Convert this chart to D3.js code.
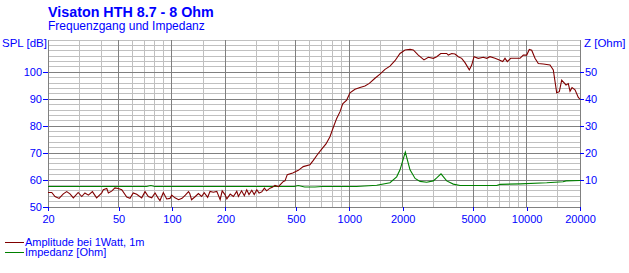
<!DOCTYPE html>
<html>
<head>
<meta charset="utf-8">
<script src="https://cdn.jsdelivr.net/npm/d3@7"></script>
<style>
  body { margin: 0; background: #fff; }
  text { font-family: "Liberation Sans", Arial, sans-serif; fill: #0000ff; }
</style>
</head>
<body>
<svg id="chart"></svg>
<script>
// frequency response (Hz, dB)
const splFreq = [20, 21, 21.9, 23.1, 24.4, 25.5, 26.6, 27.8, 29.6, 31, 32.3, 33.8, 35.6, 37.6, 40.2, 41, 42.9, 43.8, 45.7, 47.7,
  49.8, 52.1, 55.6, 58, 60.5, 63.3, 67.5, 70.5, 73.6, 76.9, 80.3, 83.8, 85.6, 89.4, 93.4, 97.5, 99.7, 104, 109, 114,
  119, 124, 126, 129, 135, 141, 147, 152, 159, 164, 171, 179, 187, 192, 199, 204, 213, 222, 232, 237,
  247, 256, 264, 272, 282, 291, 301, 310, 321, 332, 342, 357, 368, 381, 398, 416, 425, 434, 447, 480,
  516, 550, 600, 627, 660, 699, 739, 778, 813, 849, 887, 918, 967, 1009, 1077, 1149, 1226, 1297, 1396, 1490,
  1590, 1696, 1810, 1932, 2062, 2200, 2296, 2450, 2638, 2790, 2978, 3112, 3278, 3543, 3618, 3781, 3946, 4118, 4304, 4493,
  4751, 4902, 5051, 5340, 5698, 5956, 6217, 6634, 7014, 7330, 7552, 7782, 8133, 8600, 9177, 9578, 10010, 10354, 10682, 11150,
  11640, 12420, 13546, 14140, 14780, 15290, 15770, 16680, 17180, 17570, 18030, 18750, 19570, 20000];
const splValues = [55.4, 55.4, 53.9, 53.2, 54.9, 55.7, 54.9, 53.4, 55.4, 53.9, 55.2, 54.4, 55.7, 53.4, 55.2, 56.4, 56.9, 55.2, 55.9, 57.1,
  56.9, 56.4, 53.7, 53.2, 55.2, 54.7, 53.4, 55.7, 53.9, 53.4, 55.2, 53.2, 52.4, 55.4, 53.0, 53.2, 54.4, 53.4, 52.7, 53.2,
  54.4, 55.7, 55.0, 52.7, 53.8, 55.0, 53.9, 55.3, 53.6, 55.8, 55.5, 55.8, 52.7, 56.0, 54.6, 53.0, 54.8, 53.9, 55.8, 53.9,
  56.0, 54.2, 56.4, 54.6, 56.2, 54.6, 56.4, 55.2, 55.6, 57.0, 56.0, 57.0, 57.3, 58.0, 57.6, 58.9, 59.5, 59.7, 62.0, 62.6,
  63.6, 65.0, 65.7, 67.3, 69.4, 71.5, 73.4, 76.1, 79.6, 82.9, 85.4, 88.3, 89.7, 92.4, 93.7, 94.4, 94.9, 95.9, 97.8, 99.3,
  101.1, 102.3, 104.3, 107.0, 108.3, 108.5, 108.3, 106.4, 104.6, 105.6, 105.2, 105.8, 107.0, 107.0, 106.4, 107.0, 106.8, 105.8, 105.2, 103.6,
  100.9, 102.7, 105.8, 105.2, 105.6, 105.2, 105.8, 105.2, 104.6, 104.0, 105.2, 104.0, 105.2, 105.2, 105.2, 106.4, 106.4, 108.5, 108.2, 105.2,
  103.3, 103.1, 102.7, 100.9, 92.4, 92.8, 97.1, 95.3, 95.8, 93.0, 94.3, 93.5, 90.7, 90.0];

// impedance (Hz, Ohm)
const zFreq = [20, 72, 76, 80, 490, 515, 560, 640, 700, 1000, 1100, 1428, 1696, 1850, 1932, 2070, 2200, 2350, 2506, 2732,
  2978, 3112, 3290, 3543, 3860, 4214, 6780, 7085, 9185, 12980, 16040, 16700, 20000];
const zValues = [7.6, 7.6, 8.0, 7.6, 7.6, 8.0, 7.4, 7.4, 7.6, 7.6, 7.6, 8.1, 9.0, 11.2, 13.8, 20.4, 13.8, 10.6, 9.5, 9.2,
  9.7, 10.8, 12.3, 9.7, 8.5, 8.0, 8.0, 8.4, 8.6, 9.0, 9.4, 9.7, 9.85];

const xTicks = [20, 50, 100, 200, 500, 1000, 2000, 5000, 10000, 20000];
const xMinor = [30, 40, 60, 70, 80, 90, 150, 300, 400, 600, 700, 800, 900, 1500, 3000, 4000, 6000, 7000, 8000, 9000, 15000];
const splTicks = [50, 60, 70, 80, 90, 100];
const splMinor = [52, 54, 56, 58, 62, 64, 66, 68, 72, 74, 76, 78, 82, 84, 86, 88, 92, 94, 96, 98, 102, 104, 106, 108, 110, 112];
const zTicks = [10, 20, 30, 40, 50];
const legendLabels = ["Amplitude bei 1Watt, 1m", "Impedanz [Ohm]"];
const legendColors = ["#800000", "#008000"];

const chartW = 629, chartH = 273;
const plotL = 48, plotR = 580, plotT = 40, plotB = 207;

const svg = d3.select("#chart").attr("width", chartW).attr("height", chartH);

const x = d3.scaleLog().domain([20, 20000]).range([plotL, plotR]);
const y = d3.scaleLinear().domain([50, 112]).range([plotB, plotT]);
const yz = d3.scaleLinear().domain([0, 62]).range([plotB, plotT]);

// grid
const grid = svg.append("g").attr("shape-rendering", "crispEdges");
grid.selectAll(".hmin").data(splMinor).join("line")
    .attr("x1", plotL).attr("x2", plotR)
    .attr("y1", d => y(d)).attr("y2", d => y(d))
    .attr("stroke", "#c0c0c0");
grid.selectAll(".vmin").data(xMinor).join("line")
    .attr("x1", d => x(d)).attr("x2", d => x(d))
    .attr("y1", plotT).attr("y2", plotB)
    .attr("stroke", "#c0c0c0");
grid.selectAll(".hmaj").data(splTicks).join("line")
    .attr("x1", plotL).attr("x2", plotR)
    .attr("y1", d => y(d)).attr("y2", d => y(d))
    .attr("stroke", "#808080");
grid.selectAll(".vmaj").data(xTicks).join("line")
    .attr("x1", d => x(d)).attr("x2", d => x(d))
    .attr("y1", plotT).attr("y2", plotB)
    .attr("stroke", "#808080");

// axes
const xAxis = d3.axisBottom(x).tickValues(xTicks).tickFormat(d3.format("d")).tickSize(4).tickPadding(4);
const yAxis = d3.axisLeft(y).tickValues(splTicks).tickSize(5).tickPadding(1);
const zAxis = d3.axisRight(yz).tickValues(zTicks).tickSize(4).tickPadding(1);

function styleAxis(g) {
  g.select(".domain").remove();
  g.selectAll(".tick line").attr("stroke", "#0000ff");
  g.selectAll(".tick text").attr("fill", "#0000ff")
      .style("font-size", "11px").style("font-family", "'Liberation Sans', Arial, sans-serif");
}

svg.append("g").attr("transform", `translate(0,${plotB})`).attr("shape-rendering", "crispEdges")
    .call(xAxis).call(styleAxis);
svg.append("g").attr("transform", `translate(${plotL},0)`).attr("shape-rendering", "crispEdges")
    .call(yAxis).call(styleAxis);
svg.append("g").attr("transform", `translate(${plotR},0)`).attr("shape-rendering", "crispEdges")
    .call(zAxis).call(styleAxis);

// curves
const splLine = d3.line().x(d => x(d[0])).y(d => y(d[1]));
const zLine = d3.line().x(d => x(d[0])).y(d => yz(d[1]));

svg.append("path")
    .datum(d3.zip(zFreq, zValues))
    .attr("d", zLine)
    .attr("fill", "none").attr("stroke", "#008000").attr("stroke-width", 1.1);
svg.append("path")
    .datum(d3.zip(splFreq, splValues))
    .attr("d", splLine)
    .attr("fill", "none").attr("stroke", "#800000").attr("stroke-width", 1.1);

// titles
svg.append("text").attr("x", 48).attr("y", 17)
    .style("font-size", "14.3px").style("font-weight", "bold")
    .text("Visaton HTH 8.7 - 8 Ohm");
svg.append("text").attr("x", 48).attr("y", 29.5)
    .style("font-size", "12px")
    .text("Frequenzgang und Impedanz");
svg.append("text").attr("x", 2).attr("y", 47)
    .style("font-size", "11.5px")
    .text("SPL [dB]");
svg.append("text").attr("x", 584).attr("y", 47)
    .style("font-size", "11.5px")
    .text("Z [Ohm]");

// legend
const legend = svg.append("g");
legend.selectAll("line").data(legendColors).join("line")
    .attr("x1", 5).attr("x2", 24)
    .attr("y1", (d, i) => 242 + i * 10.5).attr("y2", (d, i) => 242 + i * 10.5)
    .attr("stroke", d => d).attr("shape-rendering", "crispEdges");
legend.selectAll("text").data(legendLabels).join("text")
    .attr("x", 25).attr("y", (d, i) => 245.5 + i * 10.5)
    .style("font-size", "11px")
    .text(d => d);
</script>
</body>
</html>
